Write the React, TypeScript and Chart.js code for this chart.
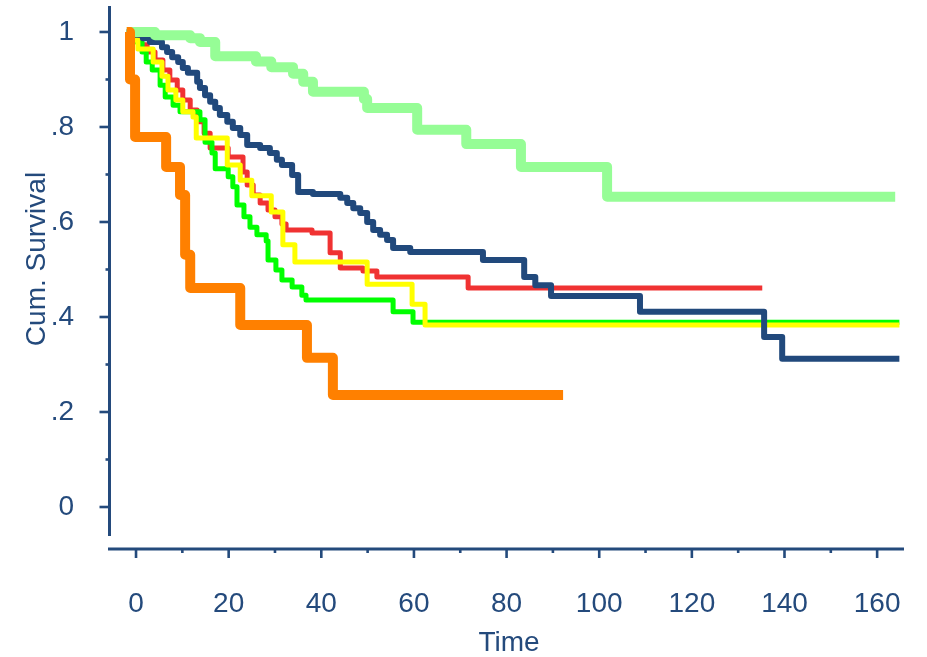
import React, { useEffect, useRef } from "react";
import { Chart, registerables } from "chart.js";

Chart.register(...registerables);

// Kaplan–Meier estimates: each time is where the survival level starts.
const groupATimes = [-2, 4.1, 11.7, 13.8, 17.1, 25.9, 29.2, 33.9, 36.1, 38.2, 49.2, 49.9, 60.7, 71.3, 83.1, 101.7, 163.9];
const groupASurv = [1.0, 0.993, 0.987, 0.979, 0.949, 0.938, 0.926, 0.912, 0.895, 0.874, 0.859, 0.84, 0.794, 0.764, 0.716, 0.653, 0.653];

const groupBTimes = [-2, -0.9, 1.5, 3.0, 5.6, 6.7, 7.8, 9.1, 10.1, 11.2, 13.2, 13.8, 14.9, 16.0, 17.1, 18.1, 19.7, 20.9, 22.5, 24.0, 26.8, 28.9, 30.4, 31.5, 33.7, 35.0, 38.2, 44.1, 45.6, 46.9, 48.4, 49.9, 51.2, 52.7, 54.2, 55.5, 59.2, 74.9, 83.8, 86.2, 89.6, 108.8, 135.6, 139.5, 164.8];
const groupBSurv = [1.0, 0.994, 0.987, 0.979, 0.968, 0.958, 0.947, 0.937, 0.924, 0.914, 0.895, 0.882, 0.867, 0.853, 0.84, 0.825, 0.811, 0.798, 0.783, 0.762, 0.756, 0.745, 0.731, 0.72, 0.699, 0.663, 0.659, 0.651, 0.64, 0.629, 0.619, 0.6, 0.583, 0.573, 0.562, 0.545, 0.537, 0.52, 0.484, 0.467, 0.444, 0.411, 0.358, 0.312, 0.312];

const groupCTimes = [-2, -0.6, 0.9, 2.4, 4.1, 5.8, 7.3, 8.9, 10.1, 11.7, 13.2, 14.7, 16.0, 19.9, 23.1, 24.0, 25.3, 26.8, 28.5, 30.0, 31.5, 32.4, 38.0, 41.9, 44.1, 49.0, 52.0, 71.7, 135.2];
const groupCSurv = [1.0, 0.987, 0.973, 0.958, 0.941, 0.92, 0.899, 0.878, 0.857, 0.836, 0.811, 0.787, 0.756, 0.737, 0.705, 0.678, 0.657, 0.64, 0.625, 0.611, 0.596, 0.583, 0.577, 0.535, 0.503, 0.497, 0.484, 0.461, 0.461];

const groupDTimes = [-2, -0.2, 0.4, 3.7, 5.6, 6.9, 8.6, 10.1, 12.3, 13.0, 19.7, 22.5, 25.0, 29.2, 31.7, 34.3, 49.9, 59.6, 62.4, 164.8];
const groupDSurv = [1.0, 0.983, 0.964, 0.937, 0.907, 0.878, 0.857, 0.832, 0.821, 0.777, 0.72, 0.688, 0.655, 0.621, 0.552, 0.516, 0.469, 0.427, 0.383, 0.383];

const groupETimes = [-2, 0, 1.3, 2.2, 3.5, 5.2, 6.3, 8.0, 9.5, 13.8, 14.9, 16.4, 17.1, 19.9, 20.9, 21.8, 23.3, 24.6, 26.1, 28.1, 28.5, 30.2, 31.5, 33.7, 35.8, 36.7, 55.5, 59.8, 164.8];
const groupESurv = [1.0, 0.979, 0.958, 0.937, 0.92, 0.888, 0.863, 0.846, 0.832, 0.815, 0.768, 0.745, 0.712, 0.695, 0.674, 0.636, 0.611, 0.589, 0.573, 0.56, 0.52, 0.499, 0.478, 0.463, 0.446, 0.436, 0.411, 0.389, 0.389];

const groupFTimes = [-2, -1.3, -0.2, 6.5, 9.5, 10.6, 11.7, 22.5, 36.9, 42.5, 92.2];
const groupFSurv = [1.0, 0.9, 0.779, 0.716, 0.657, 0.531, 0.461, 0.383, 0.314, 0.236, 0.236];

const xTickLabels = [0, 20, 40, 60, 80, 100, 120, 140, 160];
const yTickLabels = ["0", ".2", ".4", ".6", ".8", "1"];

const AXIS_COLOR = "#244a7c";
const FONT_FAMILY = '"Liberation Sans", Arial, sans-serif';

const toPoints = (times: number[], surv: number[]) =>
  times.map((t, i) => ({ x: t, y: surv[i] }));

// Detached axis lines with major/minor tick marks, plus axis titles.
const axesPlugin = {
  id: "kmAxes",
  beforeDatasetsDraw(chart: any) {
    const { ctx, chartArea, scales } = chart;
    const xs = scales.x;
    const ys = scales.y;
    ctx.save();
    ctx.strokeStyle = AXIS_COLOR;
    ctx.lineCap = "butt";

    // y axis
    const ax = chartArea.left + 1.5;
    ctx.lineWidth = 3;
    ctx.beginPath();
    ctx.moveTo(ax, chartArea.top);
    ctx.lineTo(ax, ys.getPixelForValue(-0.061));
    ctx.stroke();
    ctx.lineWidth = 2.6;
    ys.ticks.forEach((t: any) => {
      const major = Math.round(t.value * 10) % 2 === 0;
      const py = ys.getPixelForValue(t.value);
      ctx.beginPath();
      ctx.moveTo(ax - (major ? 10 : 4), py);
      ctx.lineTo(ax, py);
      ctx.stroke();
    });

    // x axis
    const ay = chartArea.bottom;
    ctx.lineWidth = 3;
    ctx.beginPath();
    ctx.moveTo(chartArea.left, ay);
    ctx.lineTo(chartArea.right, ay);
    ctx.stroke();
    ctx.lineWidth = 2.6;
    xs.ticks.forEach((t: any) => {
      const major = Math.round(t.value) % 20 === 0;
      const px = xs.getPixelForValue(t.value);
      ctx.beginPath();
      ctx.moveTo(px, ay);
      ctx.lineTo(px, ay + (major ? 9 : 4));
      ctx.stroke();
    });

    // titles
    ctx.fillStyle = AXIS_COLOR;
    ctx.font = `28px ${FONT_FAMILY}`;
    ctx.textAlign = "center";
    ctx.textBaseline = "middle";
    ctx.fillText("Time", (chartArea.left + chartArea.right) / 2 + 3, 643);
    ctx.translate(37, 259);
    ctx.rotate(-Math.PI / 2);
    ctx.fillText("Cum. Survival", 0, 0);
    ctx.restore();
  },
};

const series = [
  { label: "Group F", times: groupFTimes, surv: groupFSurv, color: "#ff8000", width: 10 },
  { label: "Group A", times: groupATimes, surv: groupASurv, color: "#96fd96", width: 10 },
  { label: "Group B", times: groupBTimes, surv: groupBSurv, color: "#21497c", width: 6 },
  { label: "Group D", times: groupDTimes, surv: groupDSurv, color: "#ffff00", width: 5 },
  { label: "Group E", times: groupETimes, surv: groupESurv, color: "#00ff00", width: 5 },
  { label: "Group C", times: groupCTimes, surv: groupCSurv, color: "#f03232", width: 5 },
];

// Keep the plot box fixed: no extra room reserved for edge tick labels.
const clearPadding = (scale: any) => {
  scale.paddingTop = 0;
  scale.paddingBottom = 0;
  scale.paddingLeft = 0;
  scale.paddingRight = 0;
};

export default function App() {
  const canvasRef = useRef<HTMLCanvasElement | null>(null);

  useEffect(() => {
    if (!canvasRef.current) return;
    const chart = new Chart(canvasRef.current, {
      type: "line",
      data: {
        datasets: series.map((s, i) => ({
          label: s.label,
          data: toPoints(s.times, s.surv),
          borderColor: s.color,
          backgroundColor: s.color,
          borderWidth: s.width,
          stepped: true,
          pointRadius: 0,
          fill: false,
          borderJoinStyle: "round" as const,
          borderCapStyle: "butt" as const,
          order: i,
        })),
      },
      options: {
        responsive: false,
        animation: false,
        layout: { padding: { top: 6, right: 23, left: 0, bottom: 0 } },
        plugins: {
          legend: { display: false },
          tooltip: { enabled: false },
        },
        scales: {
          x: {
            type: "linear",
            min: -6.05,
            max: 165.8,
            grid: { display: false },
            border: { display: false },
            afterFit: (scale: any) => {
              scale.height = 108;
              clearPadding(scale);
            },
            ticks: {
              stepSize: 10,
              includeBounds: false,
              autoSkip: false,
              maxRotation: 0,
              padding: 30,
              color: AXIS_COLOR,
              font: { family: FONT_FAMILY, size: 28 },
              callback: (v: any) => {
                const n = Math.round(Number(v));
                return xTickLabels.includes(n) ? String(n) : "";
              },
            },
          },
          y: {
            type: "linear",
            min: -0.0884,
            max: 1.0547,
            grid: { display: false },
            border: { display: false },
            afterFit: (scale: any) => {
              scale.width = 108;
              clearPadding(scale);
            },
            ticks: {
              stepSize: 0.1,
              includeBounds: false,
              autoSkip: false,
              padding: 26,
              color: AXIS_COLOR,
              font: { family: FONT_FAMILY, size: 28 },
              callback: (v: any) => {
                const k = Math.round(Number(v) * 10);
                return k % 2 === 0 ? yTickLabels[k / 2] : "";
              },
            },
          },
        },
      },
      plugins: [axesPlugin],
    });
    return () => chart.destroy();
  }, []);

  return (
    <div style={{ position: "fixed", left: 0, top: 0, width: 927, height: 657, background: "#fff" }}>
      <canvas ref={canvasRef} width={927} height={657} />
    </div>
  );
}
